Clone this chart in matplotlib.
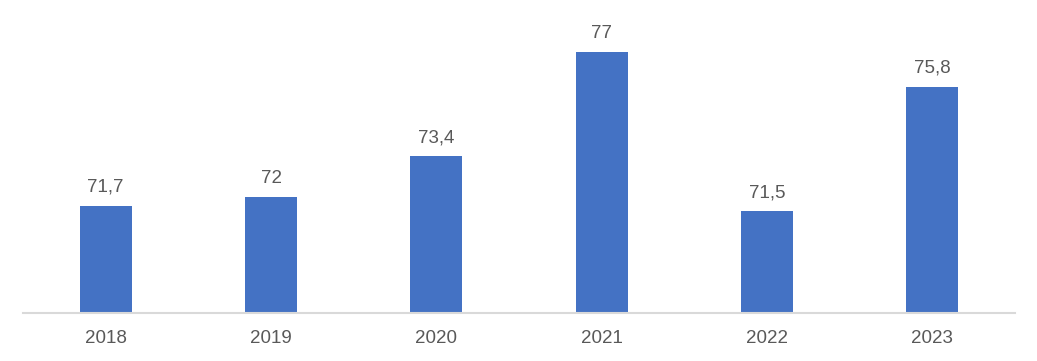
import matplotlib
matplotlib.use("Agg")
import matplotlib.pyplot as plt

years = ["2018", "2019", "2020", "2021", "2022", "2023"]
values = [71.7, 72.0, 73.4, 77.0, 71.5, 75.8]
value_labels = ["71,7", "72", "73,4", "77", "71,5", "75,8"]

plt.rcParams['font.family'] = ['Liberation Sans', 'DejaVu Sans']
text_color = "#595959"

fig = plt.figure(figsize=(10.37, 3.61), dpi=100)
ax = fig.add_axes([23/1037, 0.1338, (1015-23)/1037, 0.802])

x = list(range(len(years)))
bars = ax.bar(x, values, width=0.314, color="#4472C4", zorder=2)

ax.set_xlim(-0.5, len(years) - 0.5)
ax.set_ylim(68, 78)

for xi, v, lab in zip(x, values, value_labels):
    ax.annotate(lab, (xi, v), xytext=(0, 10.1), textcoords="offset points",
                ha="center", va="baseline", fontsize=13.5, color=text_color)

ax.set_xticks(x)
ax.set_xticklabels(years, fontsize=13.5, color=text_color)
ax.tick_params(axis="x", length=0, pad=12.5)
ax.set_yticks([])

for s in ["top", "right", "left"]:
    ax.spines[s].set_visible(False)
ax.spines["bottom"].set_color("#D9D9D9")
ax.spines["bottom"].set_linewidth(1.5)
ax.spines["bottom"].set_zorder(3)

fig.savefig("out.png", dpi=100)
